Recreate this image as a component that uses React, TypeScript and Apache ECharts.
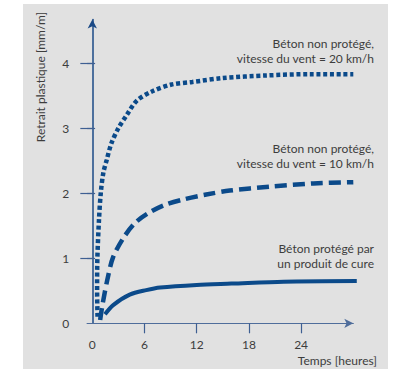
import React, { useEffect, useRef } from "react";
import * as echarts from "echarts";

// hours, mm/m
const windTwenty: [number, number][] = [
  [0.6, 0.1], [0.55, 0.5], [0.58, 1.0], [0.77, 1.6], [0.97, 2.0], [1.26, 2.31],
  [1.65, 2.51], [2.2, 2.77], [3.0, 3.0], [3.95, 3.2], [5.1, 3.42], [6.8, 3.56],
  [9.1, 3.67], [11.5, 3.71], [15, 3.77], [20, 3.81], [25, 3.83], [30, 3.83],
];
const windTen: [number, number][] = [
  [0.9, 0.05], [1.2, 0.31], [1.84, 0.74], [2.4, 1.02], [3.56, 1.31], [4.9, 1.54],
  [6.4, 1.69], [8.35, 1.82], [10.65, 1.91], [13.1, 1.98], [15.8, 2.04],
  [20.4, 2.1], [25.4, 2.15], [30, 2.17],
];
const cured: [number, number][] = [
  [1.46, 0.14], [2.4, 0.28], [4.3, 0.44], [6.2, 0.51], [7.8, 0.55], [12, 0.59],
  [16, 0.61], [22, 0.64], [30.4, 0.65],
];
const xTickValues = [6, 12, 18, 24];
const xLabelValues = [0, 6, 12, 18, 24];
const yTickValues = [1, 2, 3, 4];
const yLabelValues = [0, 1, 2, 3, 4];

const labelWind20 = ["Béton non protégé,", "vitesse du vent = 20 km/h"];
const labelWind10 = ["Béton non protégé,", "vitesse du vent = 10 km/h"];
const labelCured = ["Béton protégé par", "un produit de cure"];
const yTitle = "Retrait plastique [mm/m]";
const xTitle = "Temps [heures]";

const LINE = "#0b4a8a";
const TEXT = "#3d3d3d";
const FONT = "Lato, 'Open Sans', sans-serif";

export default function App() {
  const ref = useRef<HTMLDivElement>(null);
  useEffect(() => {
    document.body.style.margin = "0";
    const chart = echarts.init(ref.current!, undefined, { renderer: "svg" });
    const txt = (lines: string[], x: number, y: number) => ({
      type: "text",
      x,
      y,
      style: {
        text: lines.join("\n"),
        align: "right",
        verticalAlign: "middle",
        fill: TEXT,
        font: `12px ${FONT}`,
        lineHeight: 15,
      },
    });
    chart.setOption({
      animation: false,
      backgroundColor: "transparent",
      textStyle: { fontFamily: FONT },
      grid: { left: 87.1, right: 39.7, top: 19.5, bottom: 49.7, containLabel: false },
      xAxis: {
        type: "value",
        min: -0.6,
        max: 30,
        splitLine: { show: false },
        axisLine: {
          show: true,
          onZero: true,
          symbol: ["none", "arrow"],
          symbolSize: [7, 9],
          lineStyle: { color: "#4f6d9b", width: 1.2 },
        },
        axisTick: {
          show: true,
          customValues: xTickValues,
          length: 10,
          lineStyle: { color: "#3e5f92", width: 1.2 },
        },
        axisLabel: {
          customValues: xLabelValues,
          margin: 15,
          color: TEXT,
          fontSize: 12,
          fontFamily: FONT,
        },
      },
      yAxis: [
        {
          type: "value",
          min: 0,
          max: 4.67,
          position: "left",
          splitLine: { show: false },
          axisLine: {
            show: true,
            onZero: true,
            symbol: ["none", "arrow"],
            symbolSize: [7, 9],
            lineStyle: { color: "#1b4a86", width: 1.5 },
          },
          axisTick: {
            show: true,
            customValues: yTickValues,
            length: 12,
            lineStyle: { color: "#3e5f92", width: 1.2 },
          },
          axisLabel: {
            customValues: yLabelValues,
            margin: 18,
            color: TEXT,
            fontSize: 12,
            fontFamily: FONT,
          },
        },
        {
          type: "value",
          min: 0,
          max: 4.67,
          position: "left",
          splitLine: { show: false },
          axisLine: { show: false, onZero: true },
          axisTick: {
            show: true,
            inside: true,
            customValues: yTickValues,
            length: 8,
            lineStyle: { color: "#3e5f92", width: 1.2 },
          },
          axisLabel: { show: false },
        },
      ],
      series: [
        {
          type: "line",
          data: windTwenty,
          smooth: 0.3,
          symbol: "none",
          clip: false,
          lineStyle: { color: LINE, width: 4.5, type: [4, 2.7], cap: "butt" },
        },
        {
          type: "line",
          data: windTen,
          smooth: 0.3,
          symbol: "none",
          clip: false,
          lineStyle: { color: LINE, width: 4.5, type: [12, 6], cap: "butt" },
        },
        {
          type: "line",
          data: cured,
          smooth: 0.3,
          symbol: "none",
          clip: false,
          lineStyle: { color: LINE, width: 4 },
        },
      ],
      graphic: [
        txt(labelWind20, 374, 50.5),
        txt(labelWind10, 374, 155.5),
        txt(labelCured, 374, 256),
        {
          type: "text",
          x: 377,
          y: 360,
          style: {
            text: xTitle,
            align: "right",
            verticalAlign: "middle",
            fill: TEXT,
            font: `12px ${FONT}`,
          },
        },
        {
          type: "text",
          x: 40,
          y: 77,
          rotation: Math.PI / 2,
          style: {
            text: yTitle,
            align: "center",
            verticalAlign: "middle",
            fill: TEXT,
            font: `12px ${FONT}`,
          },
        },
      ],
    });
    return () => chart.dispose();
  }, []);
  return (
    <div style={{ position: "relative", width: 393, height: 373, background: "#fff" }}>
      <div
        style={{
          position: "absolute",
          left: 23,
          top: 4,
          width: 365,
          height: 365,
          background: "#e1e1e1",
        }}
      />
      <div ref={ref} style={{ position: "absolute", left: 0, top: 0, width: 393, height: 373 }} />
    </div>
  );
}
